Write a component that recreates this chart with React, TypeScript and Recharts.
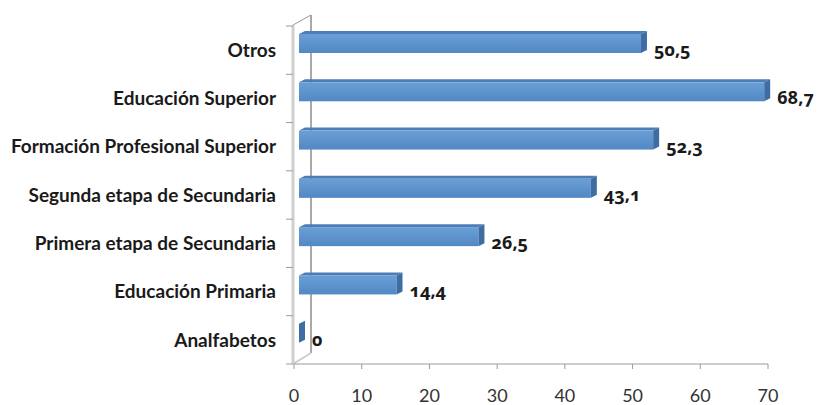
import React from "react";
import { BarChart, Bar, XAxis, YAxis, LabelList } from "recharts";

const categories = [
  "Otros",
  "Educación Superior",
  "Formación Profesional Superior",
  "Segunda etapa de Secundaria",
  "Primera etapa de Secundaria",
  "Educación Primaria",
  "Analfabetos",
];
const values = [50.5, 68.7, 52.3, 43.1, 26.5, 14.4, 0];
const xTicks = [0, 10, 20, 30, 40, 50, 60, 70];

const data = categories.map((c, i) => ({ name: c, value: values[i] }));

const W = 818;
const H = 405;
const X_H = 30;
const M = { top: 26, right: 50, bottom: 41 - X_H, left: 0 };
const Y_W = 294;
const plotL = M.left + Y_W;
const plotT = M.top;
const plotB = H - M.bottom - X_H;
const band = (plotB - plotT) / categories.length;
const BACK_DX = 17;
const BACK_DY = 11;

const Bar3D = (props: any) => {
  const { x, y, width, height } = props;
  const fx = x + 5;
  const fy = y - 6;
  const fw = Math.max(width, 0);
  const fh = height - 1;
  const dd = 6;
  const dv = 3;
  return (
    <g>
      <polygon
        points={`${fx},${fy} ${fx + fw},${fy} ${fx + fw + dd},${fy - dv} ${fx + dd},${fy - dv}`}
        fill="#4C7DB6"
      />
      <rect x={fx} y={fy} width={fw} height={fh} fill="url(#barGrad)" />
      <polygon
        points={`${fx + fw},${fy} ${fx + fw + dd},${fy - dv} ${fx + fw + dd},${fy + fh - dv} ${fx + fw},${fy + fh}`}
        fill="#3F6DA3"
      />
    </g>
  );
};

const renderLabel = (props: any) => {
  const { x, y, width, height, value } = props;
  const tx = x + 5 + Math.max(width, 0) + 13;
  const ty = y + height / 2 + 6;
  return (
    <text
      x={tx}
      y={ty}
      fill="#1a1a1a"
      fontSize={18}
      fontWeight="bold"
      fontFamily="'Noto Sans', Lato, sans-serif"
      style={{ fontFeatureSettings: '"onum" 1', fontVariantNumeric: "oldstyle-nums" }}
    >
      {String(value).replace(".", ",")}
    </text>
  );
};

const XTick = (props: any) => {
  const { x, y, payload } = props;
  return (
    <text
      x={x}
      y={y}
      dy={31}
      textAnchor="middle"
      fill="#333"
      fontSize={18}
      fontFamily="Lato, 'Open Sans', sans-serif"
    >
      {payload.value}
    </text>
  );
};

const Wall = () => {
  const ticks = [];
  for (let i = 0; i <= categories.length; i++) {
    const yy = plotT + i * band;
    ticks.push(<line key={i} x1={plotL - 8} y1={yy} x2={plotL - 1} y2={yy} stroke="#9a9a9a" strokeWidth={1} />);
  }
  return (
    <svg width={W} height={H} style={{ position: "absolute", left: 0, top: 0 }}>
      <line x1={plotL - 1} y1={plotT - 1} x2={plotL - 1} y2={plotB} stroke="#d0d0d0" strokeWidth={3} />
      <line x1={plotL + BACK_DX} y1={plotT - BACK_DY} x2={plotL + BACK_DX} y2={plotB - BACK_DY} stroke="#8c8c8c" strokeWidth={1.5} />
      <line x1={plotL - 1} y1={plotT - 1} x2={plotL + BACK_DX} y2={plotT - BACK_DY} stroke="#9a9a9a" strokeWidth={1} />
      <line x1={plotL - 1} y1={plotB} x2={plotL + BACK_DX} y2={plotB - BACK_DY} stroke="#c8c8c8" strokeWidth={1.5} />
      {ticks}
    </svg>
  );
};

export default function App() {
  return (
    <div style={{ position: "absolute", left: 0, top: 0, width: W, height: H, background: "#fff" }}>
      <Wall />
      <div style={{ position: "absolute", left: 0, top: 0 }}>
        <BarChart width={W} height={H} data={data} layout="vertical" margin={M} barCategoryGap={0}>
          <defs>
            <linearGradient id="barGrad" x1="0" y1="0" x2="0" y2="1">
              <stop offset="0%" stopColor="#6A9FD6" />
              <stop offset="100%" stopColor="#5288C3" />
            </linearGradient>
          </defs>
          <XAxis
            type="number"
            domain={[0, 70]}
            ticks={xTicks}
            interval={0}
            height={X_H}
            axisLine={{ stroke: "#9a9a9a" }}
            tickLine={{ stroke: "#9a9a9a" }}
            tickSize={5}
            tick={XTick}
          />
          <YAxis
            type="category"
            dataKey="name"
            width={Y_W}
            axisLine={false}
            tickLine={false}
            tickMargin={12}
            tick={{ fill: "#1a1a1a", fontSize: 19, fontWeight: "bold", fontFamily: "Lato, 'Open Sans', sans-serif" }}
          />
          <Bar dataKey="value" barSize={20} shape={Bar3D} isAnimationActive={false}>
            <LabelList dataKey="value" content={renderLabel} />
          </Bar>
        </BarChart>
      </div>
    </div>
  );
}
